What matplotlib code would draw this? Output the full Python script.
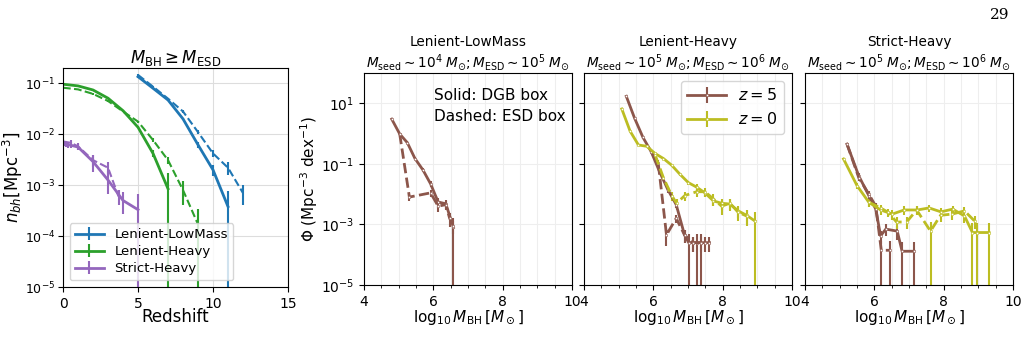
import numpy as np
import matplotlib
matplotlib.use("Agg")
from matplotlib import pyplot as plt
from matplotlib.ticker import MultipleLocator, NullLocator

# ---- left panel: number density vs redshift ----
ll_z_dgb = [5, 6, 7, 8, 9, 10, 11]
ll_n_dgb = [0.135, 0.08, 0.047, 0.02, 0.0062, 0.002, 3.8e-4]
ll_e_dgb = [0.005, 0.003, 0.002, 0.001, 0.0008, 0.0005, 3.8e-4]
ll_z_esd = [5, 6, 7, 8, 9, 10, 11, 12]
ll_n_esd = [0.146, 0.086, 0.05, 0.028, 0.011, 0.0042, 0.0022, 7e-4]
ll_e_esd = [0.005, 0.003, 0.002, 0.0015, 0.001, 0.0007, 0.0006, 3e-4]

lh_z_dgb = [0, 1, 2, 3, 4, 5, 6, 7]
lh_n_dgb = [0.096, 0.089, 0.074, 0.051, 0.029, 0.0137, 0.0042, 8.5e-4]
lh_e_dgb = [0.002, 0.002, 0.002, 0.0015, 0.001, 0.0007, 0.0006, 8.5e-4]
lh_z_esd = [0, 1, 2, 3, 4, 5, 6, 7, 8, 9]
lh_n_esd = [0.082, 0.076, 0.062, 0.045, 0.028, 0.0177, 0.0077, 0.0031, 8e-4, 1.7e-4]
lh_e_esd = [0.002, 0.002, 0.002, 0.0015, 0.001, 0.0008, 0.0006, 0.0005, 4e-4, 1.7e-4]

sh_z_dgb = [0, 0.1, 0.2, 0.3, 0.5, 1, 2, 3, 4, 5]
sh_n_dgb = [0.0064, 0.0066, 0.0063, 0.0062, 0.0061, 0.0056, 0.0029, 0.00126, 5e-4, 3.3e-4]
sh_e_dgb = [0.0008, 0.0008, 0.0008, 0.0008, 0.0008, 0.0008, 0.0011, 0.0006, 2.3e-4, 3.3e-4]
sh_z_esd = [0, 0.5, 1, 2, 3, 3.7]
sh_n_esd = [0.0072, 0.0068, 0.0058, 0.0031, 0.0022, 6e-4]
sh_e_esd = [0.0008, 0.0008, 0.0008, 0.0008, 0.0006, 2e-4]

# ---- mass functions (log10 M_BH, Phi) ----
# Lenient-LowMass
p1_z5_m_dgb = [4.80, 5.03, 5.25, 5.47, 5.70, 5.92, 6.14, 6.36, 6.58]
p1_z5_p_dgb = [3.0, 0.97, 0.50, 0.15, 0.063, 0.022, 0.0055, 0.0048, 8e-4]
p1_z5_e_dgb = [0.3, 0.1, 0.05, 0.02, 0.01, 0.005, 0.002, 0.0015, 8e-4]
p1_z5_m_esd = [5.03, 5.31, 5.92, 6.14, 6.36, 6.47, 6.58]
p1_z5_p_esd = [0.97, 0.008, 0.011, 0.004, 0.0045, 0.0016, 9e-4]
p1_z5_e_esd = [0.1, 0.002, 0.003, 0.0015, 0.0015, 8e-4, 4e-4]

# Lenient-Heavy
p2_z5_m_dgb = [5.22, 5.46, 5.70, 5.94, 6.18, 6.42, 6.66, 6.90, 7.02, 7.14, 7.26, 7.38, 7.50, 7.62]
p2_z5_p_dgb = [17, 3.2, 0.75, 0.25, 0.055, 0.014, 0.0045, 4.5e-4, 2.5e-4, 2.5e-4, 2.5e-4, 2.5e-4, 2.5e-4, 2.5e-4]
p2_z5_e_dgb = [1.0, 0.3, 0.08, 0.03, 0.008, 0.003, 0.001, 2e-4, 2.5e-4, 1.3e-4, 2.5e-4, 2.5e-4, 1.3e-4, 1.3e-4]
p2_z5_m_esd = [5.94, 6.14, 6.38, 6.66, 6.90, 7.14, 7.38]
p2_z5_p_esd = [0.25, 0.11, 4.5e-4, 1.6e-3, 4.5e-4, 2.5e-4, 2.5e-4]
p2_z5_e_esd = [0.03, 0.02, 2.5e-4, 5e-4, 2e-4, 1.3e-4, 1.3e-4]
p2_z0_m_dgb = [5.09, 5.33, 5.57, 5.81, 6.05, 6.29, 6.53, 6.77, 7.01, 7.25, 7.49, 7.73, 7.97, 8.21, 8.45, 8.69, 8.93]
p2_z0_p_dgb = [6.5, 1.2, 0.42, 0.38, 0.22, 0.15, 0.09, 0.045, 0.024, 0.017, 0.011, 0.006, 0.005, 0.0047, 0.0028, 0.002, 0.0013]
p2_z0_e_dgb = [0.4, 0.1, 0.04, 0.03, 0.02, 0.015, 0.01, 0.006, 0.004, 0.004, 0.003, 0.002, 0.002, 0.002, 0.0012, 0.001, 0.0013]
p2_z0_m_esd = [6.05, 6.29, 6.53, 6.67, 6.91, 7.25, 7.49, 7.73, 7.97, 8.21, 8.45, 8.69]
p2_z0_p_esd = [0.2, 0.035, 0.009, 0.005, 0.009, 0.012, 0.012, 0.007, 0.004, 0.005, 0.0025, 0.0019]
p2_z0_e_esd = [0.02, 0.006, 0.003, 0.002, 0.003, 0.004, 0.004, 0.003, 0.002, 0.002, 0.0012, 0.001]

# Strict-Heavy
p3_z5_m_dgb = [5.21, 5.55, 5.84, 6.04, 6.18, 6.33, 6.66, 6.80, 7.14]
p3_z5_p_dgb = [0.45, 0.04, 0.009, 0.0032, 4.2e-4, 7e-4, 6e-4, 1.3e-4, 1.3e-4]
p3_z5_e_dgb = [0.04, 0.008, 0.003, 0.001, 2e-4, 3e-4, 3e-4, 1.3e-4, 1.3e-4]
p3_z5_m_esd = [5.21, 5.55, 5.84, 6.04, 6.20, 6.46]
p3_z5_p_esd = [0.45, 0.035, 0.01, 0.004, 1.4e-4, 1.4e-4]
p3_z5_e_esd = [0.04, 0.008, 0.003, 0.0012, 1.4e-4, 1.4e-4]
p3_z0_m_dgb = [5.11, 5.50, 5.84, 6.18, 6.52, 6.86, 7.24, 7.58, 7.92, 8.26, 8.60, 8.83, 8.97, 9.31]
p3_z0_p_dgb = [0.145, 0.019, 0.0054, 0.003, 0.0022, 0.003, 0.003, 0.0035, 0.0026, 0.0032, 0.0019, 5.4e-4, 5.4e-4, 5.4e-4]
p3_z0_e_dgb = [0.015, 0.004, 0.0015, 0.001, 0.0008, 0.001, 0.001, 0.001, 0.0009, 0.001, 0.0008, 5.4e-4, 5.4e-4, 5.4e-4]
p3_z0_m_esd = [5.84, 6.18, 6.40, 6.64, 6.93, 7.22, 7.62, 7.91, 8.25, 8.60, 8.89]
p3_z0_p_esd = [0.0054, 0.0035, 0.0025, 0.0012, 0.0012, 0.003, 6e-4, 0.002, 0.0022, 0.0028, 0.0013]
p3_z0_e_esd = [0.0015, 0.001, 0.0008, 0.0005, 0.0005, 0.001, 6e-4, 0.0008, 0.0008, 0.0009, 0.0006]

c_blue, c_green, c_purple = "C0", "C2", "C4"
c_z5, c_z0 = "C5", "C8"

fig = plt.figure(figsize=(10.3, 3.42), dpi=100)
ax0 = fig.add_axes([0.0612, 0.1608, 0.2184, 0.6404])
axs = [fig.add_axes([0.3534, 0.1667, 0.2019, 0.6199]),
       fig.add_axes([0.567, 0.1667, 0.2019, 0.6199]),
       fig.add_axes([0.7816, 0.1667, 0.2019, 0.6199])]

# left panel
def zline(ax, z, n, e, col, ls, lab=None):
	return ax.errorbar(z, n, yerr=e, color=col, ls=ls, lw=2 if ls == "-" else 1.5,
	                   elinewidth=1.5, label=lab)

zline(ax0, ll_z_dgb, ll_n_dgb, ll_e_dgb, c_blue, "-", "Lenient-LowMass")
zline(ax0, ll_z_esd, ll_n_esd, ll_e_esd, c_blue, "--")
zline(ax0, lh_z_dgb, lh_n_dgb, lh_e_dgb, c_green, "-", "Lenient-Heavy")
zline(ax0, lh_z_esd, lh_n_esd, lh_e_esd, c_green, "--")
zline(ax0, sh_z_dgb, sh_n_dgb, sh_e_dgb, c_purple, "-", "Strict-Heavy")
zline(ax0, sh_z_esd, sh_n_esd, sh_e_esd, c_purple, "--")
ax0.set_yscale("log")
ax0.set_ylim(1e-5, 0.2)
ax0.set_xlim(0, 15)
ax0.set_xticks([0, 5, 10, 15])
ax0.yaxis.set_minor_locator(NullLocator())
ax0.grid(True, color="#dddddd", lw=0.8)
ax0.tick_params(labelsize=10)
ax0.tick_params(axis="y", labelsize=9, pad=2)
ax0.set_xlabel("Redshift", fontsize=12, labelpad=-2)
ax0.set_ylabel(r"$n_{bh}[\mathrm{Mpc}^{-3}]$", fontsize=12)
ax0.yaxis.set_label_coords(-0.17, 0.5)
ax0.set_title(r"$M_{\rm BH} \geq M_{\rm ESD}$", fontsize=12, pad=3)
ax0.legend(loc="lower left", fontsize=9.5, framealpha=0.8, handlelength=2.2,
           borderpad=0.4, labelspacing=0.3)

# mass function panels
def mline(ax, m, p, e, col, ls, lab=None):
	return ax.errorbar(m, p, yerr=e, color=col, ls=ls, lw=2, elinewidth=1.5,
	                   marker="o", ms=1.8, mfc="white", mec=col, mew=0.4, label=lab)

mline(axs[0], p1_z5_m_dgb, p1_z5_p_dgb, p1_z5_e_dgb, c_z5, "-")
mline(axs[0], p1_z5_m_esd, p1_z5_p_esd, p1_z5_e_esd, c_z5, "--")

mline(axs[1], p2_z5_m_dgb, p2_z5_p_dgb, p2_z5_e_dgb, c_z5, "-", r"$z=5$")
mline(axs[1], p2_z5_m_esd, p2_z5_p_esd, p2_z5_e_esd, c_z5, "--")
mline(axs[1], p2_z0_m_dgb, p2_z0_p_dgb, p2_z0_e_dgb, c_z0, "-", r"$z=0$")
mline(axs[1], p2_z0_m_esd, p2_z0_p_esd, p2_z0_e_esd, c_z0, "--")

mline(axs[2], p3_z5_m_dgb, p3_z5_p_dgb, p3_z5_e_dgb, c_z5, "-")
mline(axs[2], p3_z5_m_esd, p3_z5_p_esd, p3_z5_e_esd, c_z5, "--")
mline(axs[2], p3_z0_m_dgb, p3_z0_p_dgb, p3_z0_e_dgb, c_z0, "-")
mline(axs[2], p3_z0_m_esd, p3_z0_p_esd, p3_z0_e_esd, c_z0, "--")

titles = ["Lenient-LowMass\n" + r"$M_{\rm seed}\sim10^4\;M_{\odot}; M_{\rm ESD}\sim10^5\;M_{\odot}$",
          "Lenient-Heavy\n" + r"$M_{\rm seed}\sim10^5\;M_{\odot}; M_{\rm ESD}\sim10^6\;M_{\odot}$",
          "Strict-Heavy\n" + r"$M_{\rm seed}\sim10^5\;M_{\odot}; M_{\rm ESD}\sim10^6\;M_{\odot}$"]
for i, ax in enumerate(axs):
	ax.set_yscale("log")
	ax.set_ylim(1e-5, 1e2)
	ax.set_xlim(4, 10)
	ax.set_yticks([1e-5, 1e-3, 1e-1, 1e1])
	ax.yaxis.set_minor_locator(NullLocator())
	ax.xaxis.set_major_locator(MultipleLocator(2))
	ax.xaxis.set_minor_locator(MultipleLocator(0.5))
	ax.grid(True, which="both", color="#eeeeee", lw=0.8)
	ax.tick_params(labelsize=10)
	ax.set_xlabel(r"$\log_{10}M_{\rm BH}\,[M_\odot]$", fontsize=11, labelpad=0)
	ax.set_title(titles[i], fontsize=9.8, pad=0, linespacing=1.25)
	if i > 0:
		ax.tick_params(labelleft=False)

axs[0].set_ylabel(r"$\Phi$ (Mpc$^{-3}$ dex$^{-1}$)", fontsize=11, labelpad=1)
axs[0].text(0.337, 0.93, "Solid: DGB box\nDashed: ESD box", transform=axs[0].transAxes,
            ha="left", va="top", fontsize=11, linespacing=1.5)
axs[1].legend(loc="upper right", fontsize=11.5, handlelength=2.4, borderpad=0.4)

fig.text(0.971, 0.955, "29", fontsize=11, family="DejaVu Serif", ha="center", va="center")

fig.savefig("out.png", dpi=100)
plt.close(fig)
